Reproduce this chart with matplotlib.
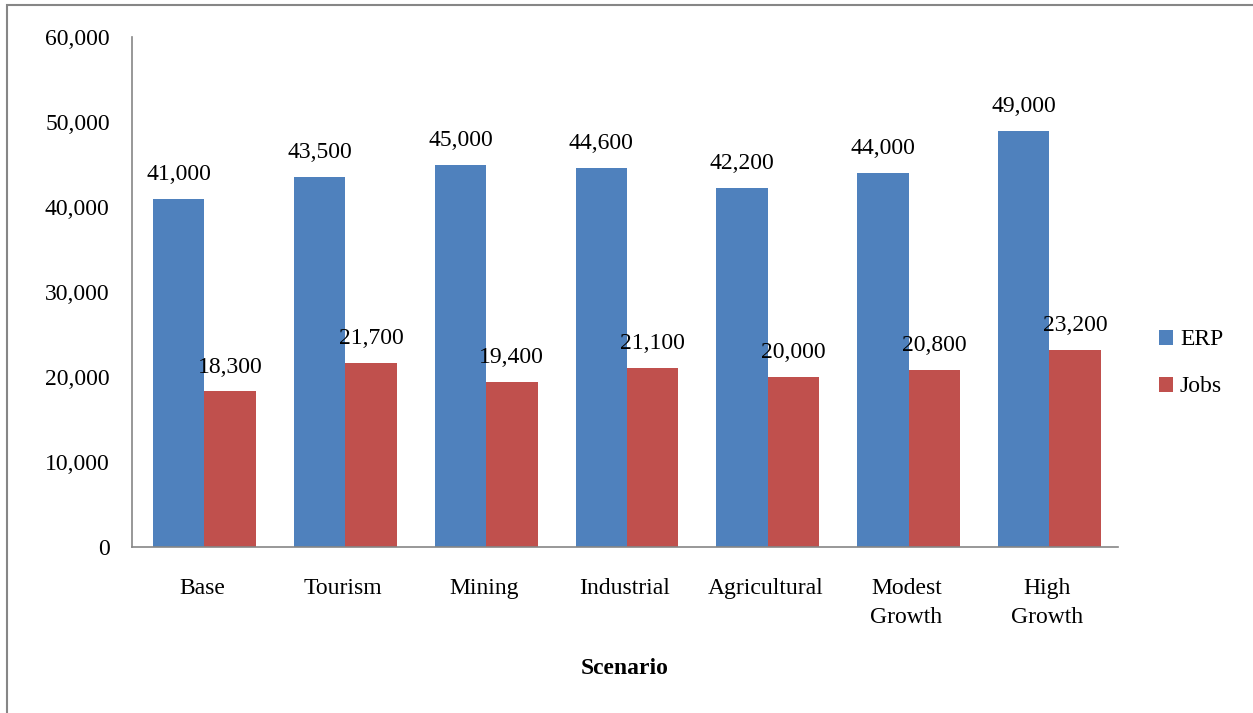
import numpy as np
import matplotlib.pyplot as plt
from matplotlib.patches import Rectangle

plt.rcParams['font.family'] = ['Liberation Serif', 'DejaVu Serif']

scenarios = ['Base', 'Tourism', 'Mining', 'Industrial', 'Agricultural', 'Modest\nGrowth', 'High\nGrowth']
erp = [41000, 43500, 45000, 44600, 42200, 44000, 49000]
jobs = [18300, 21700, 19400, 21100, 20000, 20800, 23200]

fs = 17

fig = plt.figure(figsize=(12.53, 7.13), dpi=100)
ax = fig.add_axes([0.1053, 0.2328, 0.7867, 0.7152])

# outer frame of the chart object
fig.patches.append(Rectangle((7 / 1253, -0.05), 1.1, 1 - 5 / 713 + 0.05,
                             transform=fig.transFigure, fill=False,
                             edgecolor='#868686', linewidth=1.5))

x = np.arange(len(scenarios))
w = 0.365
b1 = ax.bar(x - w / 2 + 0.015, erp, w, color='#4F81BD', label='ERP')
b2 = ax.bar(x + w / 2 + 0.015, jobs, w, color='#C0504D', label='Jobs')

for bars, vals in [(b1, erp), (b2, jobs)]:
    for r, v in zip(bars, vals):
        ax.annotate(f'{v:,}', (r.get_x() + r.get_width() / 2, v),
                    xytext=(0, 10), textcoords='offset points',
                    ha='center', va='bottom', fontsize=fs)

ax.set_xlim(-0.5, len(scenarios) - 0.5)
ax.set_ylim(0, 60000)
ax.set_yticks(range(0, 60001, 10000))
ax.yaxis.set_major_formatter(plt.FuncFormatter(lambda v, p: f'{int(v):,}'))
ax.set_xticks(x)
ax.set_xticklabels(scenarios, fontsize=fs, linespacing=1.55)
ax.tick_params(axis='y', labelsize=fs, length=0, pad=16)
ax.tick_params(axis='x', length=0, pad=22)

for s in ['top', 'right']:
    ax.spines[s].set_visible(False)
for s in ['left', 'bottom']:
    ax.spines[s].set_color('#868686')
    ax.spines[s].set_linewidth(1.2)

ax.set_xlabel('Scenario', fontsize=fs, fontweight='bold', labelpad=21)

ax.legend(loc='center left', bbox_to_anchor=(1.02, 0.36), frameon=False,
          fontsize=fs, handlelength=0.6, handleheight=0.6,
          handletextpad=0.3, labelspacing=1.1)

fig.savefig('out.png', dpi=100)
